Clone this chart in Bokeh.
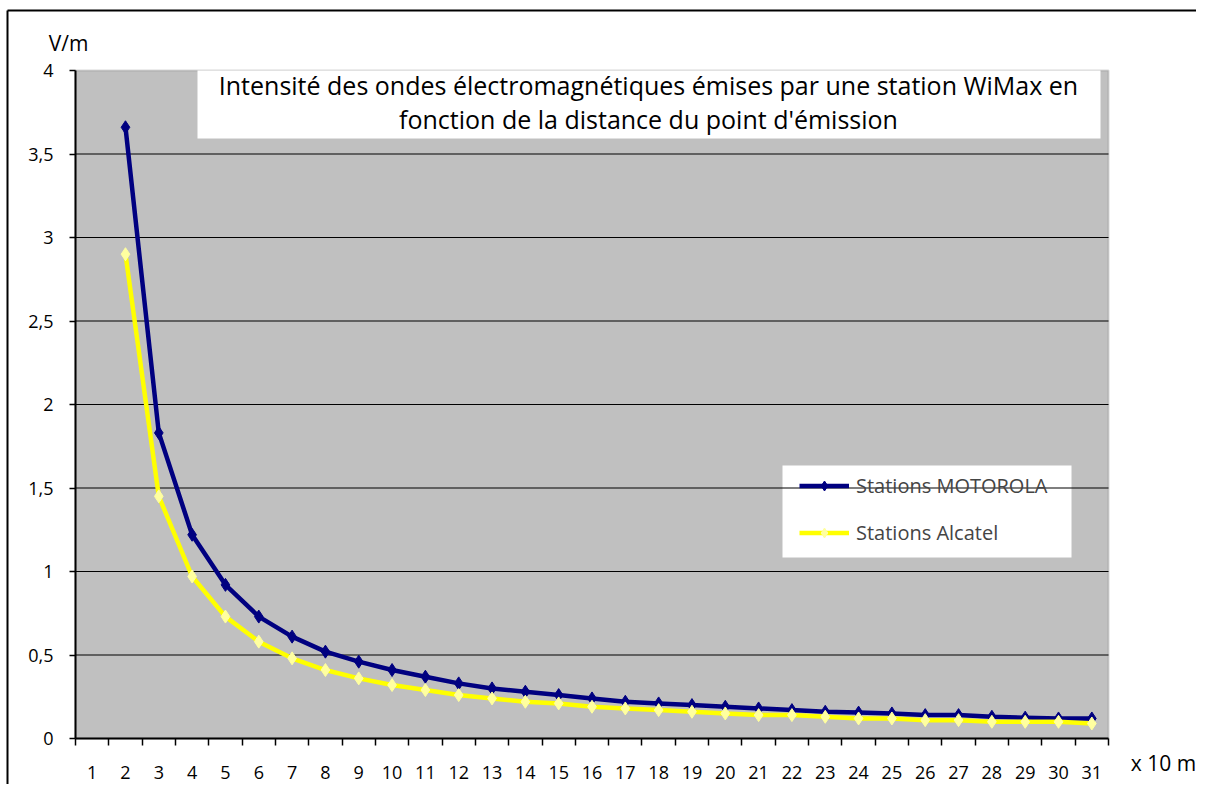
from bokeh.plotting import figure
from bokeh.models import (FixedTicker, Legend, LegendItem, BoxAnnotation,
                          Range1d, ColumnDataSource)
from bokeh.core.properties import value
from bokeh.embed import file_html
from bokeh.resources import INLINE

# ---- data ----
categories = list(range(1, 32))
distance = list(range(2, 32))
motorola = [3.66, 1.83, 1.22, 0.92, 0.73, 0.61, 0.52, 0.46, 0.41, 0.37,
            0.33, 0.30, 0.28, 0.26, 0.24, 0.22, 0.21, 0.20, 0.19, 0.18,
            0.17, 0.16, 0.155, 0.15, 0.14, 0.14, 0.13, 0.125, 0.12, 0.12]
alcatel = [2.90, 1.45, 0.97, 0.73, 0.58, 0.48, 0.41, 0.36, 0.32, 0.29,
           0.26, 0.24, 0.22, 0.21, 0.19, 0.18, 0.17, 0.16, 0.15, 0.14,
           0.14, 0.13, 0.12, 0.12, 0.11, 0.11, 0.10, 0.10, 0.10, 0.09]
y_ticks = [0, 0.5, 1, 1.5, 2, 2.5, 3, 3.5, 4]
y_tick_labels = ["0", "0,5", "1", "1,5", "2", "2,5", "3", "3,5", "4"]
title_lines = ["Intensité des ondes électromagnétiques émises par une station WiMax en",
               "fonction de la distance du point d'émission"]
series_names = ["Stations MOTOROLA", "Stations Alcatel"]
y_unit = "V/m"
x_unit = "x 10 m"

FONT = "Open Sans"

# ---- layout (pixels in the picture) ----
W, H = 1196, 784
OX, OY = 0, 0                       # canvas origin in the picture
AREA_L, AREA_R, AREA_T, AREA_B = 75, 1108, 70, 738
x_lo, x_hi = categories[0] - 0.5, categories[-1] + 0.5
y_lo, y_hi = y_ticks[0], y_ticks[-1]
PXX = (AREA_R - AREA_L) / (x_hi - x_lo)
PXY = (AREA_B - AREA_T) / (y_hi - y_lo)


def dx(sx):
    return x_lo + (sx - AREA_L) / PXX


def dy(sy):
    return y_lo + (AREA_B - sy) / PXY


p = figure(width=W, height=H, output_backend="svg", toolbar_location=None,
           x_range=Range1d(dx(OX), dx(OX + W)), y_range=Range1d(dy(OY + H), dy(OY)),
           min_border=0, min_border_left=0, min_border_right=0,
           min_border_top=0, min_border_bottom=0)
p.title.visible = False
p.background_fill_color = "white"
p.border_fill_color = "white"
p.outline_line_color = None
p.xgrid.visible = False
p.ygrid.visible = False

# plot area
p.add_layout(BoxAnnotation(left=x_lo, right=x_hi, bottom=y_lo, top=y_hi,
                           fill_color="#C0C0C0", fill_alpha=1.0,
                           line_color="#808080", line_width=2, level="underlay"))
# title box
p.add_layout(BoxAnnotation(left=dx(197), right=dx(1100), bottom=dy(138), top=y_hi,
                           fill_color="white", fill_alpha=1.0, line_color=None,
                           level="underlay"))
# legend box
p.add_layout(BoxAnnotation(left=dx(782), right=dx(1071), bottom=dy(557), top=dy(465),
                           fill_color="white", fill_alpha=1.0, line_color=None,
                           level="underlay"))

# outer chart border (top and left edges visible in the window)
p.segment(x0=[dx(7), dx(7)], y0=[dy(10), dy(10)], x1=[dx(1230), dx(7)],
          y1=[dy(10), dy(830)], line_color="black", line_width=2)

# horizontal grid lines
grid_vals = [t for t in y_ticks if y_lo < t < y_hi]
p.segment(x0=[x_lo] * len(grid_vals), x1=[x_hi] * len(grid_vals),
          y0=grid_vals, y1=grid_vals, line_color="black", line_width=1.2)

# x axis
xa = p.xaxis[0]
xa.fixed_location = y_lo
xa.bounds = (x_lo, x_hi)
xa.ticker = FixedTicker(ticks=categories,
                        minor_ticks=[c - 0.5 for c in categories] + [x_hi])
xa.major_tick_in = 0
xa.major_tick_out = 0
xa.minor_tick_in = 0
xa.minor_tick_out = 7
xa.minor_tick_line_color = "black"
xa.minor_tick_line_width = 1.5
xa.axis_line_color = "black"
xa.axis_line_width = 2
xa.major_label_standoff = 20
xa.major_label_text_font = FONT
xa.major_label_text_font_size = "18px"
xa.major_label_text_color = "black"

# y axis
ya = p.yaxis[0]
ya.fixed_location = x_lo
ya.bounds = (y_lo, y_hi)
ya.ticker = FixedTicker(ticks=y_ticks)
ya.major_label_overrides = {t: l for t, l in zip(y_ticks, y_tick_labels)}
ya.major_tick_in = 0
ya.major_tick_out = 6
ya.major_tick_line_width = 1.5
ya.minor_tick_line_color = None
ya.axis_line_color = "black"
ya.axis_line_width = 2
ya.major_label_standoff = 16
ya.major_label_text_font = FONT
ya.major_label_text_font_size = "18px"
ya.major_label_text_color = "black"

# series
src_m = ColumnDataSource(dict(x=distance, y=motorola))
src_a = ColumnDataSource(dict(x=distance, y=alcatel))
lm = p.line("x", "y", source=src_m, line_color="#000080", line_width=4.5)
sm = p.scatter("x", "y", source=src_m, marker="diamond", size=13,
               fill_color="#000080", line_color="#000080")
la = p.line("x", "y", source=src_a, line_color="#FFFF00", line_width=4.5)
sa = p.scatter("x", "y", source=src_a, marker="diamond", size=13,
               fill_color="#FFFFA0", line_color="#FFFFA0")

legend = Legend(items=[LegendItem(label=series_names[0], renderers=[lm, sm]),
                       LegendItem(label=series_names[1], renderers=[la, sa])],
                location=(799, 238), padding=0, spacing=20,
                glyph_width=50, glyph_height=25, label_height=25,
                label_standoff=7, label_text_font=FONT,
                label_text_font_size="20px", background_fill_alpha=0,
                border_line_color=None, margin=0)
p.add_layout(legend, "center")

# title text
p.text(x=[dx(648)] * 2, y=[dy(84), dy(118)], text=title_lines,
       text_align="center", text_baseline="middle", text_font=value(FONT),
       text_font_size="25px", text_color="black")

# unit labels
p.text(x=[dx(68), dx(1163)], y=[dy(42), dy(762)], text=[y_unit, x_unit],
       text_align="center", text_baseline="middle", text_font=value(FONT),
       text_font_size="21px", text_color="black")

open("out.html", "w").write(file_html(p, INLINE))
